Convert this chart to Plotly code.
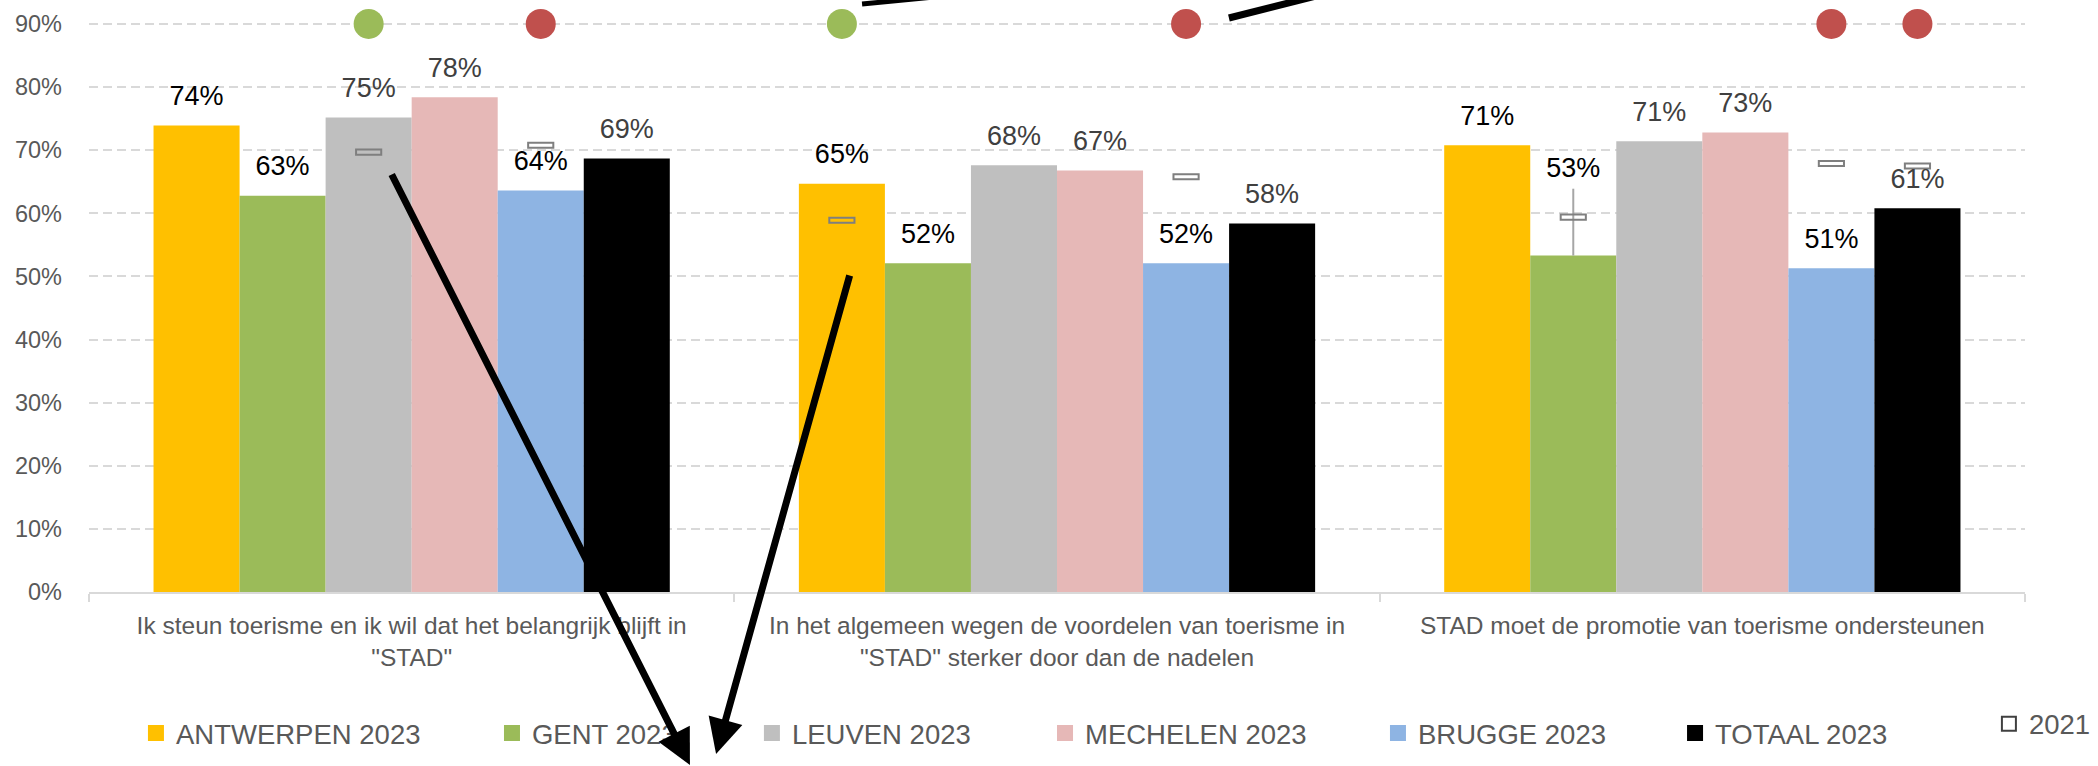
import plotly.graph_objects as go

# ---------------- data ----------------
categories = [
    'Ik steun toerisme en ik wil dat het belangrijk blijft in<br>"STAD"',
    'In het algemeen wegen de voordelen van toerisme in<br>"STAD" sterker door dan de nadelen',
    'STAD moet de promotie van toerisme ondersteunen',
]
cities = ["ANTWERPEN", "GENT", "LEUVEN", "MECHELEN", "BRUGGE", "TOTAAL"]

antwerpen_2023 = [0.739, 0.647, 0.708]
gent_2023 = [0.628, 0.521, 0.533]
leuven_2023 = [0.752, 0.676, 0.714]
mechelen_2023 = [0.784, 0.668, 0.728]
brugge_2023 = [0.636, 0.521, 0.513]
totaal_2023 = [0.687, 0.584, 0.608]

antwerpen_2021 = [None, 0.589, None]
gent_2021 = [None, None, 0.594]
leuven_2021 = [0.697, None, None]
mechelen_2021 = [None, None, None]
brugge_2021 = [0.708, 0.658, 0.679]
totaal_2021 = [None, None, 0.675]

gent_2023_err_up = [0.0, 0.0, 0.106]

# significance markers (up = significant rise vs 2021, down = significant drop)
antwerpen_sig = [None, "up", None]
gent_sig = [None, None, None]
leuven_sig = ["up", None, None]
mechelen_sig = [None, None, None]
brugge_sig = ["down", "down", "down"]
totaal_sig = [None, None, "down"]
sig_level = 0.9

y_ticks = [0, 0.1, 0.2, 0.3, 0.4, 0.5, 0.6, 0.7, 0.8, 0.9]

values_2023 = [antwerpen_2023, gent_2023, leuven_2023, mechelen_2023, brugge_2023, totaal_2023]
values_2021 = [antwerpen_2021, gent_2021, leuven_2021, mechelen_2021, brugge_2021, totaal_2021]
sigs = [antwerpen_sig, gent_sig, leuven_sig, mechelen_sig, brugge_sig, totaal_sig]

# ---------------- style ----------------
FONT = "Liberation Sans, Arial, sans-serif"
bar_colors = ["#FFC000", "#9BBB59", "#BFBFBF", "#E6B8B7", "#8EB4E3", "#000000"]
label_colors = ["#000000", "#000000", "#404040", "#404040", "#000000", "#404040"]
sig_colors = {"up": "#9BBB59", "down": "#C0504D"}
marker_thick = 0.008
marker_width = 0.039
err_label_pad = -0.014

legend_x = [0.0648, 0.2345, 0.3584, 0.4981, 0.6568, 0.7984, 0.9480]
legend_y = [0.043, 0.043, 0.043, 0.043, 0.043, 0.043, 0.055]
legend_keys = ["legend"] + [f"legend{k}" for k in range(2, 8)]

fig = go.Figure()

for i, city in enumerate(cities):
    err = None
    if city == "GENT":
        err = dict(type="data", array=gent_2023_err_up, arrayminus=[0, 0, 0],
                   symmetric=False, color="#A6A6A6", thickness=2, width=0, visible=True)
    fig.add_trace(go.Bar(
        x=categories, y=values_2023[i], name=f"{city} 2023",
        marker=dict(color=bar_colors[i], line=dict(width=0)),
        offsetgroup=city, showlegend=False, error_y=err, hoverinfo="skip",
    ))

for i, city in enumerate(cities):
    vals = values_2021[i]
    fig.add_trace(go.Bar(
        x=categories,
        y=[marker_thick if v is not None else None for v in vals],
        base=[v - marker_thick / 2 if v is not None else None for v in vals],
        width=marker_width, offsetgroup=city, name="2021",
        marker=dict(color="rgba(0,0,0,0)", line=dict(color="#7F7F7F", width=2)),
        showlegend=False, hoverinfo="skip",
    ))

for i, city in enumerate(cities):
    vals = values_2023[i]
    ly = list(vals)
    if city == "GENT":
        ly = [v + e + (err_label_pad if e else 0) for v, e in zip(vals, gent_2023_err_up)]
    fig.add_trace(go.Scatter(
        x=categories, y=ly, mode="markers+text",
        text=[f"{v:.0%}" for v in vals], textposition="top center",
        textfont=dict(family=FONT, size=27, color=label_colors[i]),
        marker=dict(size=20, color="rgba(0,0,0,0)"),
        offsetgroup=city, showlegend=False, hoverinfo="skip", cliponaxis=False,
    ))

for i, city in enumerate(cities):
    s = sigs[i]
    fig.add_trace(go.Scatter(
        x=categories, y=[sig_level if v else None for v in s], mode="markers",
        marker=dict(size=30, color=[sig_colors.get(v, "rgba(0,0,0,0)") for v in s]),
        offsetgroup=city, showlegend=False, hoverinfo="skip", cliponaxis=False,
    ))

# legend entries (square swatches for 2023, open rectangle-like swatch for 2021)
for i, city in enumerate(cities):
    fig.add_trace(go.Scatter(
        x=[None], y=[None], mode="markers", name=f"{city} 2023",
        marker=dict(symbol="square", size=16, color=bar_colors[i]),
        offsetgroup=city, legend=legend_keys[i], showlegend=True, hoverinfo="skip",
    ))
fig.add_trace(go.Scatter(
    x=[None], y=[None], mode="markers", name="2021",
    marker=dict(symbol="square-open", size=14, color="#404040", line=dict(width=2)),
    offsetgroup=cities[0], legend=legend_keys[6], showlegend=True, hoverinfo="skip",
))

legends = {}
for key, lx, lyy in zip(legend_keys, legend_x, legend_y):
    legends[key] = dict(x=lx, xref="container", xanchor="left", y=lyy, yref="container",
                        yanchor="middle", orientation="h", bgcolor="rgba(0,0,0,0)",
                        font=dict(family=FONT, size=27.5, color="#595959"))

fig.update_layout(
    width=2098, height=766,
    margin=dict(l=89, r=73, t=0, b=174, autoexpand=False),
    plot_bgcolor="white", paper_bgcolor="white",
    barmode="group", bargap=0.2, bargroupgap=0, scattermode="group",
    font=dict(family=FONT, color="#595959"),
    **legends,
)
fig.update_xaxes(
    type="category", showline=True, linecolor="#D9D9D9", linewidth=2,
    ticks="outside", tickson="boundaries", ticklen=8, tickcolor="#D9D9D9", tickwidth=2,
    tickangle=0, ticklabelstandoff=11,
    tickfont=dict(family=FONT, size=24.5, color="#595959"), showgrid=False,
)
fig.update_yaxes(
    range=[0, 0.938], tickvals=y_ticks, tickformat=".0%",
    showgrid=True, gridcolor="#D9D9D9", gridwidth=2, griddash="9px,5px",
    zeroline=False, showline=False, ticklabelstandoff=26,
    tickfont=dict(family=FONT, size=23.5, color="#595959"),
)

# hand-drawn black arrows overlaid on the original picture
fig.add_annotation(x=0.3104, y=-0.2939, xref="paper", yref="paper", ax=-299, ay=-593,
                   text="", showarrow=True, arrowhead=2, arrowsize=1, arrowwidth=7,
                   arrowcolor="black", standoff=0)
fig.add_annotation(x=0.3239, y=-0.2736, xref="paper", yref="paper", ax=134, ay=-480,
                   text="", showarrow=True, arrowhead=2, arrowsize=1, arrowwidth=7,
                   arrowcolor="black", standoff=0)
fig.add_shape(type="line", xref="paper", yref="paper", x0=0.3993, y0=0.9932, x1=0.4834, y1=1.02,
              line=dict(color="black", width=5), layer="above")
fig.add_shape(type="line", xref="paper", yref="paper", x0=0.5888, y0=0.9696, x1=0.6358, y1=1.0084,
              line=dict(color="black", width=7), layer="above")

fig.write_html("out.html", config={"displayModeBar": False},
               post_script="document.body.style.margin='0px';")
